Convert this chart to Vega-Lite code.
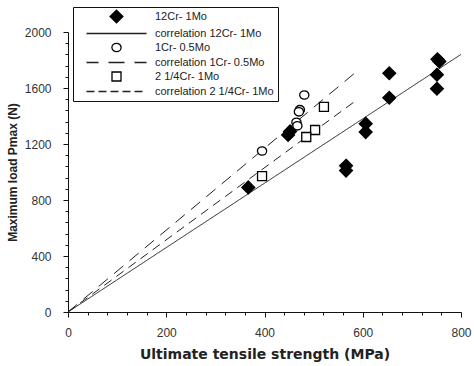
{
  "$schema": "https://vega.github.io/schema/vega-lite/v6.json",
  "width": 393,
  "height": 280,
  "autosize": {"type": "none"},
  "padding": {"left": 68, "top": 32, "right": 13, "bottom": 54},
  "background": "white",
  "config": {
    "view": {"stroke": null},
    "axis": {
      "grid": false,
      "domainColor": "#111",
      "tickColor": "#111",
      "labelColor": "#333",
      "labelFont": "Liberation Sans",
      "labelFontSize": 12,
      "titleFontWeight": "bold",
      "titleColor": "#222"
    }
  },
  "datasets": {
    "points": [
      {"uts": 367, "pmax": 890, "series": "12Cr- 1Mo"},
      {"uts": 448, "pmax": 1265, "series": "12Cr- 1Mo"},
      {"uts": 452, "pmax": 1290, "series": "12Cr- 1Mo"},
      {"uts": 566, "pmax": 1045, "series": "12Cr- 1Mo"},
      {"uts": 566, "pmax": 1010, "series": "12Cr- 1Mo"},
      {"uts": 606, "pmax": 1345, "series": "12Cr- 1Mo"},
      {"uts": 606, "pmax": 1285, "series": "12Cr- 1Mo"},
      {"uts": 654, "pmax": 1705, "series": "12Cr- 1Mo"},
      {"uts": 654, "pmax": 1530, "series": "12Cr- 1Mo"},
      {"uts": 752, "pmax": 1805, "series": "12Cr- 1Mo"},
      {"uts": 756, "pmax": 1790, "series": "12Cr- 1Mo"},
      {"uts": 751, "pmax": 1695, "series": "12Cr- 1Mo"},
      {"uts": 751, "pmax": 1595, "series": "12Cr- 1Mo"},
      {"uts": 481, "pmax": 1550, "series": "1Cr- 0.5Mo"},
      {"uts": 472, "pmax": 1445, "series": "1Cr- 0.5Mo"},
      {"uts": 470, "pmax": 1430, "series": "1Cr- 0.5Mo"},
      {"uts": 465, "pmax": 1355, "series": "1Cr- 0.5Mo"},
      {"uts": 467, "pmax": 1330, "series": "1Cr- 0.5Mo"},
      {"uts": 395, "pmax": 1150, "series": "1Cr- 0.5Mo"},
      {"uts": 521, "pmax": 1465, "series": "2 1/4Cr- 1Mo"},
      {"uts": 503, "pmax": 1300, "series": "2 1/4Cr- 1Mo"},
      {"uts": 485, "pmax": 1250, "series": "2 1/4Cr- 1Mo"},
      {"uts": 395, "pmax": 970, "series": "2 1/4Cr- 1Mo"}
    ],
    "lines": [
      {"uts": 0, "pmax": 0, "fit": "correlation 12Cr- 1Mo"},
      {"uts": 800, "pmax": 1840, "fit": "correlation 12Cr- 1Mo"},
      {"uts": 0, "pmax": 0, "fit": "correlation 1Cr- 0.5Mo"},
      {"uts": 590, "pmax": 1725, "fit": "correlation 1Cr- 0.5Mo"},
      {"uts": 0, "pmax": 0, "fit": "correlation 2 1/4Cr- 1Mo"},
      {"uts": 590, "pmax": 1520, "fit": "correlation 2 1/4Cr- 1Mo"}
    ]
  },
  "layer": [
    {
      "data": {"name": "lines"},
      "mark": {"type": "line", "color": "#222", "strokeWidth": 1},
      "encoding": {
        "x": {"field": "uts", "type": "quantitative"},
        "y": {"field": "pmax", "type": "quantitative"},
        "detail": {"field": "fit"},
        "strokeDash": {
          "field": "fit",
          "type": "nominal",
          "scale": {
            "domain": ["correlation 12Cr- 1Mo", "correlation 1Cr- 0.5Mo", "correlation 2 1/4Cr- 1Mo"],
            "range": [[1, 0], [12, 8], [9, 6]]
          },
          "legend": null
        }
      }
    },
    {
      "data": {"name": "points"},
      "mark": {"type": "point", "size": 16, "strokeWidth": 1.3, "opacity": 1, "fillOpacity": 1, "strokeOpacity": 1},
      "encoding": {
        "x": {
          "field": "uts",
          "type": "quantitative",
          "scale": {"domain": [0, 800], "nice": false},
          "axis": {
            "title": "Ultimate tensile strength (MPa)",
            "values": [0, 40, 80, 120, 160, 200, 240, 280, 320, 360, 400, 440, 480, 520, 560, 600, 640, 680, 720, 760, 800],
            "tickCount": 100,
            "labelExpr": "datum.value % 200 === 0 ? datum.label : ''",
            "labelOverlap": false,
            "labelBound": false,
            "labelFlush": false,
            "tickSize": {"condition": {"test": "datum.value % 200 === 0", "value": 5}, "value": 3},
            "titleFont": "DejaVu Sans",
            "titleFontSize": 14,
            "titlePadding": 9,
            "labelPadding": 10
          }
        },
        "y": {
          "field": "pmax",
          "type": "quantitative",
          "scale": {"domain": [0, 2000], "nice": false},
          "axis": {
            "title": "Maximum load Pmax (N)",
            "values": [0, 80, 160, 240, 320, 400, 480, 560, 640, 720, 800, 880, 960, 1040, 1120, 1200, 1280, 1360, 1440, 1520, 1600, 1680, 1760, 1840, 1920, 2000],
            "tickCount": 100,
            "labelExpr": "datum.value % 400 === 0 ? format(datum.value, 'd') : ''",
            "labelOverlap": false,
            "labelBound": false,
            "labelFlush": false,
            "tickSize": {"condition": {"test": "datum.value % 400 === 0", "value": 5}, "value": 3},
            "titleFont": "Liberation Sans",
            "titleFontSize": 12,
            "titlePadding": 5,
            "labelPadding": 12
          }
        },
        "shape": {
          "field": "series",
          "type": "nominal",
          "scale": {
            "domain": ["12Cr- 1Mo", "correlation 12Cr- 1Mo", "1Cr- 0.5Mo", "correlation 1Cr- 0.5Mo", "2 1/4Cr- 1Mo", "correlation 2 1/4Cr- 1Mo"],
            "range": [
              "M0,-3.2L3.2,0L0,3.2L-3.2,0Z",
              "M-15,0H15",
              "M2.3,0A2.3,2.1,0,1,1,-2.3,0A2.3,2.1,0,1,1,2.3,0Z",
              "M-15,0H-9M-4,0H4M9,0H15",
              "M-2.25,-2.25H2.25V2.25H-2.25Z",
              "M-15,0H-11M-9,0H-5M-3,0H1M3,0H7M9,0H13"
            ]
          },
          "legend": {
            "title": null,
            "orient": "none",
            "legendX": 5,
            "legendY": -25,
            "strokeColor": "#111",
            "fillColor": "white",
            "padding": 4,
            "symbolSize": 16,
            "symbolOffset": 34,
            "symbolStrokeWidth": 1.3,
            "labelFont": "Liberation Sans",
            "labelFontSize": 11,
            "labelColor": "#222",
            "labelOffset": 33,
            "rowPadding": 1
          }
        },
        "fill": {
          "field": "series",
          "type": "nominal",
          "scale": {
            "domain": ["12Cr- 1Mo", "correlation 12Cr- 1Mo", "1Cr- 0.5Mo", "correlation 1Cr- 0.5Mo", "2 1/4Cr- 1Mo", "correlation 2 1/4Cr- 1Mo"],
            "range": ["black", "white", "white", "white", "white", "white"]
          },
          "legend": {
            "title": null,
            "orient": "none",
            "legendX": 5,
            "legendY": -25
          }
        },
        "stroke": {
          "field": "series",
          "type": "nominal",
          "scale": {
            "domain": ["12Cr- 1Mo", "correlation 12Cr- 1Mo", "1Cr- 0.5Mo", "correlation 1Cr- 0.5Mo", "2 1/4Cr- 1Mo", "correlation 2 1/4Cr- 1Mo"],
            "range": ["black", "#222", "black", "#222", "black", "#222"]
          },
          "legend": {
            "title": null,
            "orient": "none",
            "legendX": 5,
            "legendY": -25
          }
        }
      }
    }
  ]
}
